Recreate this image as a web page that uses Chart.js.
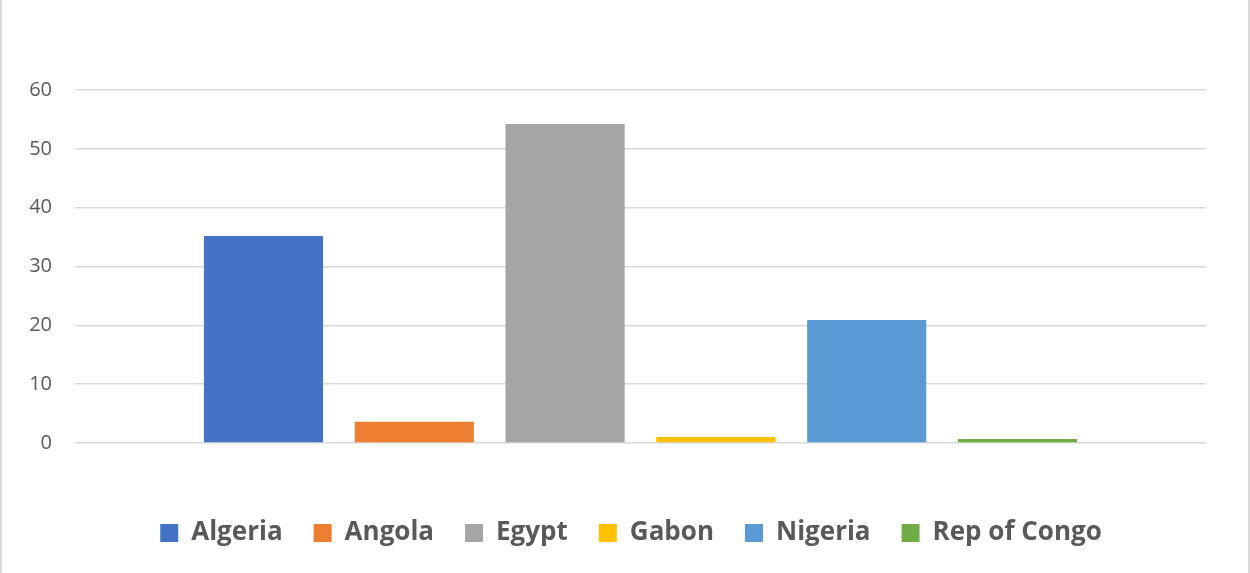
<!DOCTYPE html>
<html>
<head>
<meta charset="utf-8">
<script src="https://cdn.jsdelivr.net/npm/chart.js@4.4.1/dist/chart.umd.min.js"></script>
<style>
  html, body { margin: 0; padding: 0; background: #fff; }
  #wrap { width: 1250px; height: 573px; position: relative; }
</style>
</head>
<body>
<div id="wrap"><canvas id="oilChart"></canvas></div>
<script>
// Countries and their values (one bar per country)
const countries = ['Algeria', 'Angola', 'Egypt', 'Gabon', 'Nigeria', 'Rep of Congo'];
const values = [35.2, 3.6, 54.2, 1.0, 20.9, 0.7];
const colors = ['#4472c4', '#ed7d31', '#a5a5a5', '#ffc000', '#5b9bd5', '#70ad47'];
const yTicks = [0, 10, 20, 30, 40, 50, 60];

const textColor = '#595959';
const gridColor = '#d9d9d9';

// side frame lines like the office chart area border
const framePlugin = {
    id: 'frame',
    afterDraw(chart) {
        const { ctx, width, height } = chart;
        ctx.save();
        ctx.strokeStyle = gridColor;
        ctx.lineWidth = 2;
        ctx.beginPath();
        ctx.moveTo(1, 0); ctx.lineTo(1, height);
        ctx.moveTo(width - 1, 0); ctx.lineTo(width - 1, height);
        ctx.stroke();
        ctx.restore();
    }
};

// centre the legend on the whole canvas rather than the padded area
const legendShift = {
    id: 'legendShift',
    afterLayout(chart) {
        const lg = chart.legend;
        if (!lg) return;
        const shift = (chart.width - (lg.left + lg.right)) / 2 + 6;
        lg.left += shift;
        lg.right += shift;
    }
};

const datasets = countries.map((name, i) => ({
    label: name,
    data: [values[i]],
    backgroundColor: colors[i],
    borderWidth: 0,
    categoryPercentage: 0.8,
    barPercentage: 0.79
}));

new Chart(document.getElementById('oilChart'), {
    type: 'bar',
    data: { labels: [''], datasets },
    options: {
        responsive: true,
        maintainAspectRatio: false,
        animation: false,
        layout: { padding: { top: 90, right: 44, left: 0, bottom: 17 } },
        plugins: {
            tooltip: { enabled: false },
            legend: {
                position: 'bottom',
                labels: {
                    boxWidth: 18,
                    boxHeight: 18,
                    padding: 31,
                    color: textColor,
                    font: { family: '"Open Sans", sans-serif', size: 26, weight: 'bold' }
                }
            }
        },
        scales: {
            x: {
                // empty band between the plot and the legend
                ticks: { display: false },
                grid: { display: false },
                border: { display: false },
                afterFit: (scale) => { scale.height = 46; }
            },
            y: {
                min: 0,
                max: 60,
                afterBuildTicks: (scale) => { scale.ticks = yTicks.map(v => ({ value: v })); },
                afterFit: (scale) => { scale.width = 75; },
                border: { display: false },
                grid: { color: gridColor, lineWidth: 1.5, drawTicks: false },
                ticks: {
                    padding: 23,
                    color: textColor,
                    font: { family: '"Open Sans", sans-serif', size: 20 }
                }
            }
        }
    },
    plugins: [framePlugin, legendShift]
});
</script>
</body>
</html>
